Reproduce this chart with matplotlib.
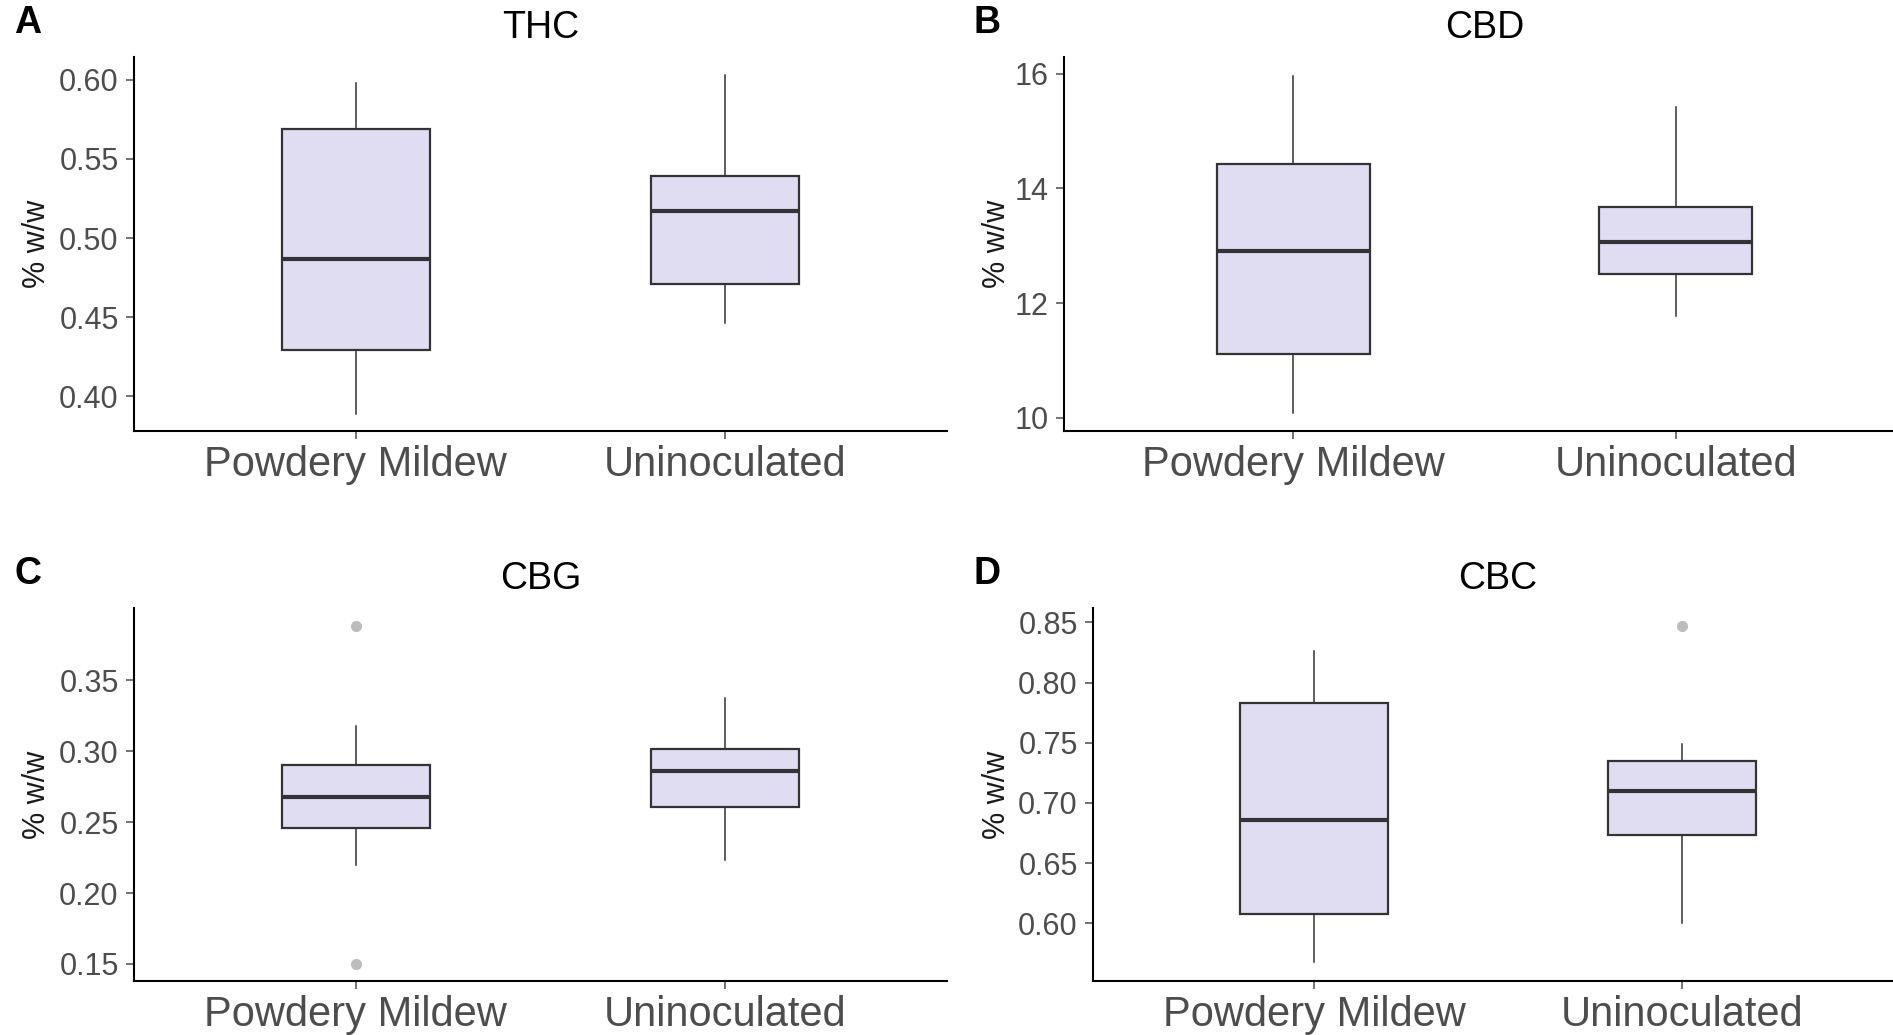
import numpy as np
import matplotlib.pyplot as plt

plt.rcParams['font.family'] = ['Liberation Sans', 'DejaVu Sans']

groups = ['Powdery Mildew', 'Uninoculated']
compounds = ['THC', 'CBD', 'CBG', 'CBC']
letters = ['A', 'B', 'C', 'D']

# box stats: [whisker low, Q1, median, Q3, whisker high]
thc_pm = [0.389, 0.429, 0.487, 0.569, 0.598]
thc_un = [0.446, 0.471, 0.517, 0.539, 0.603]
cbd_pm = [10.08, 11.11, 12.90, 14.42, 15.96]
cbd_un = [11.77, 12.51, 13.07, 13.68, 15.41]
cbg_pm = [0.220, 0.2457, 0.268, 0.2906, 0.318]
cbg_un = [0.2236, 0.2609, 0.2864, 0.3017, 0.3374]
cbc_pm = [0.568, 0.608, 0.686, 0.783, 0.826]
cbc_un = [0.600, 0.673, 0.710, 0.735, 0.749]

# outliers
cbg_pm_out = [0.388, 0.150]
cbc_un_out = [0.847]

stats = {
    'THC': [(thc_pm, []), (thc_un, [])],
    'CBD': [(cbd_pm, []), (cbd_un, [])],
    'CBG': [(cbg_pm, cbg_pm_out), (cbg_un, [])],
    'CBC': [(cbc_pm, []), (cbc_un, cbc_un_out)],
}

yticks = {
    'THC': [0.40, 0.45, 0.50, 0.55, 0.60],
    'CBD': [10, 12, 14, 16],
    'CBG': [0.15, 0.20, 0.25, 0.30, 0.35],
    'CBC': [0.60, 0.65, 0.70, 0.75, 0.80, 0.85],
}
ylims = {
    'THC': (0.378, 0.6145),
    'CBD': (9.77, 16.29),
    'CBG': (0.138, 0.401),
    'CBC': (0.552, 0.862),
}

W, H = 1893, 1035
# pixel boxes (left, right, top, bottom) and panel origin x
rects = {
    'THC': (134, 947, 57, 431),
    'CBD': (1064, 1905, 57, 431),
    'CBG': (134, 947, 608, 981),
    'CBC': (1093, 1903, 608, 981),
}
panel_x = {'THC': 0, 'CBD': 960, 'CBG': 0, 'CBC': 960}

fig = plt.figure(figsize=(W / 100, H / 100), dpi=100)

fill = '#E0DDF3'
edge = '#333333'
tick_col = '#4D4D4D'

for letter, comp in zip(letters, compounds):
    l, r, t, b = rects[comp]
    px = panel_x[comp]
    ax = fig.add_axes([l / W, 1 - b / H, (r - l) / W, (b - t) / H])
    bstats = []
    for g, (s, fl) in zip(groups, stats[comp]):
        bstats.append(dict(label=g, whislo=s[0], q1=s[1], med=s[2], q3=s[3],
                           whishi=s[4], fliers=fl))
    ax.bxp(bstats, positions=[1, 2], widths=0.4, patch_artist=True,
           showcaps=False,
           boxprops=dict(facecolor=fill, edgecolor=edge, linewidth=1.6),
           medianprops=dict(color=edge, linewidth=3),
           whiskerprops=dict(color=edge, linewidth=1.1),
           flierprops=dict(marker='o', markersize=7, markerfacecolor='#BDBDBD',
                           markeredgecolor='#BDBDBD'))
    ax.set_xlim(0.4, 2.6)
    ax.set_ylim(*ylims[comp])
    ax.set_yticks(yticks[comp])
    if comp == 'CBD':
        ax.set_yticklabels([str(v) for v in yticks[comp]])
    else:
        ax.set_yticklabels(['%.2f' % v for v in yticks[comp]])
    ax.set_xticks([1, 2])
    ax.set_xticklabels(groups)
    ax.tick_params(axis='y', labelsize=22, colors=tick_col, length=6, width=1.1, pad=5)
    ax.tick_params(axis='x', labelsize=30, colors=tick_col, length=6, width=1.1, pad=4)
    for sp in ['top', 'right']:
        ax.spines[sp].set_visible(False)
    for sp in ['left', 'bottom']:
        ax.spines[sp].set_color('black')
        ax.spines[sp].set_linewidth(1.5)
    ax.set_ylabel('% w/w', fontsize=22, color='#1a1a1a')
    ax.yaxis.set_label_coords(-(l - px - 52) / (r - l), 0.5)
    ax.set_title(comp, fontsize=27, pad=14)
    fig.text((px + 14) / W, 1 - (t - 34) / H, letter, fontsize=27, fontweight='bold',
             ha='left', va='center')

fig.savefig('out.png', dpi=100)
